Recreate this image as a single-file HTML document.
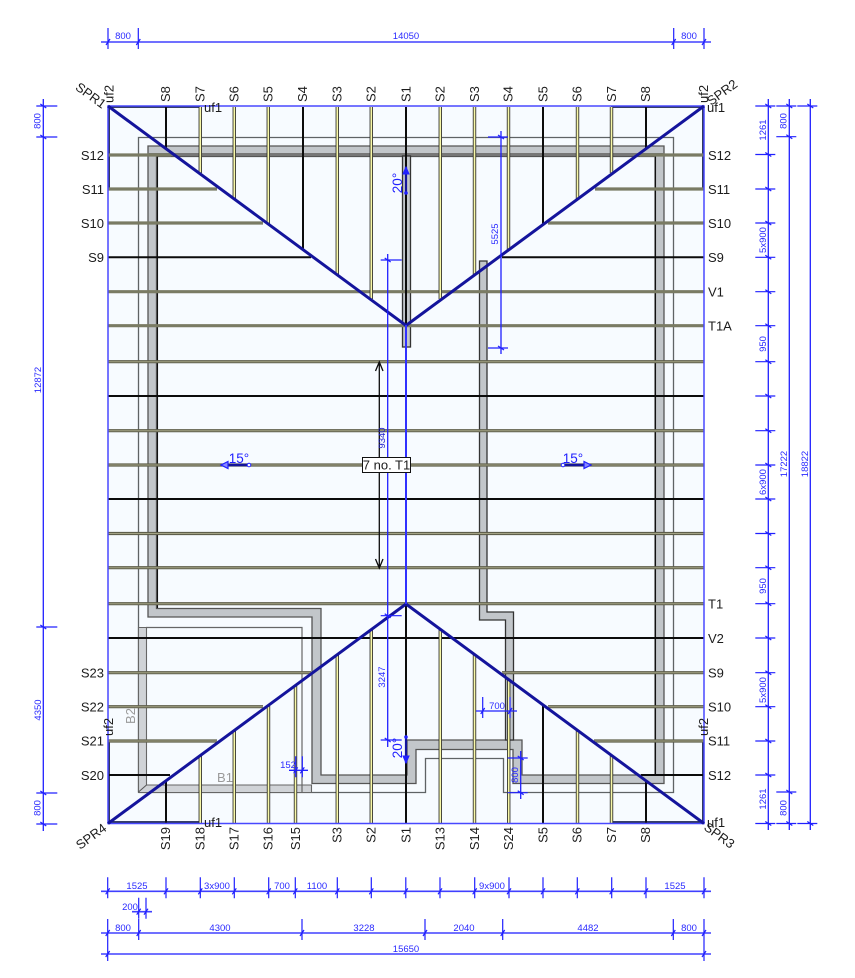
<!DOCTYPE html>
<html><head><meta charset="utf-8"><title>Roof plan</title>
<style>
html,body{margin:0;padding:0;background:#fff}
svg{display:block;filter:blur(0.35px)}
text{font-family:"Liberation Sans",sans-serif}
.b{font-size:13px;fill:#1c1c1c}
.e{text-anchor:end}
.m{text-anchor:middle}
.t{font-size:9.5px;fill:#2a2aff;text-anchor:middle}
.a{font-size:13.5px;fill:#2020ff;text-anchor:middle}
.n{fill:none}
.h{fill:none;stroke:#4040ff;stroke-width:1.6;marker-start:url(#mh);marker-mid:url(#mh);marker-end:url(#mh)}
.v{fill:none;stroke:#2020ff;stroke-width:1.3;marker-start:url(#mv);marker-mid:url(#mv);marker-end:url(#mv)}
.w{fill:none;stroke:#2020ff;stroke-width:1.3;marker-start:url(#mh);marker-mid:url(#mh);marker-end:url(#mh)}
</style></head>
<body>
<svg width="855" height="978" viewBox="0 0 855 978" xmlns="http://www.w3.org/2000/svg">
<defs>
<marker id="mh" markerUnits="userSpaceOnUse" markerWidth="40" markerHeight="40" refX="20" refY="20" orient="auto" viewBox="0 0 40 40"><path d="M20 6V27M18 23L22 17" fill="none" stroke="#2020ff" stroke-width="1.2"/></marker>
<marker id="mv" markerUnits="userSpaceOnUse" markerWidth="40" markerHeight="40" refX="20" refY="20" orient="auto" viewBox="0 0 40 40"><path d="M20 13V33M18 23L22 17" fill="none" stroke="#2020ff" stroke-width="1.2"/></marker>
</defs>

<rect x="108" y="106" width="596" height="717.5" fill="#f7fbff"/>

<!-- thin outer outline -->
<path d="M138.5 792.5V137.5H673.5V792.5H503.5V758.5H425.5V792.5H138.5" class="n" stroke="#5f6365" stroke-width="1.3"/>
<!-- beams B2 / B1 -->
<path d="M138.5 627.5H146.5V785H311.5V792.5H138.5Z" fill="#d0d3d7" stroke="#666" stroke-width="1.1"/>
<path d="M146 627.5H302V792" class="n" stroke="#666" stroke-width="1.2"/>
<path d="M138.5 792L146.5 785" class="n" stroke="#555" stroke-width="1"/>

<!-- wall band ring -->
<path fill-rule="evenodd" d="M148 146H664V783.5H513V749.5H416V783.5H312V617H148ZM156.5 156.5V608.5H321V775H407V740H522V775H655V156.5Z" fill="#c2c6ca" stroke="#555" stroke-width="1.3"/>
<path d="M157.5 156V608M655.5 156V775" class="n" stroke="#111" stroke-width="1.1"/>
<path d="M148 154.5H664" class="n" stroke="#777" stroke-width="3"/>
<!-- interior wall -->
<path d="M479.5 261H487V612H513.5V740H505.5V620H479.5Z" fill="#c2c6ca" stroke="#333" stroke-width="1.3"/>
<!-- ridge band -->
<rect x="402.5" y="156" width="8" height="191" fill="#c2c6ca" stroke="#333" stroke-width="1.3"/>

<!-- eave edges -->
<path d="M109 107V189M109 741V823M703 107V189M703 741V823M109 107H200M611 107H703M109 822H200M611 822H703" class="n" stroke="#1c2450" stroke-width="1.8"/>

<!-- olive members -->
<path d="M108 155H171M108 189H217M108 223H263M108 291.7H704M108 325.7H704M640 155H704M595 189H704M548 223H704" class="n" stroke="#7a7b64" stroke-width="3.2"/>
<path d="M108 361.7H704M108 430.7H704M108 465H704M108 533.5H704M108 567.7H704M108 603.7H704M108 672.7H311M108 706.7H263M108 741H217M502 672.7H704M548 706.7H704M594 741H704" class="n" stroke="#5f5f4b" stroke-width="3.2"/>
<path d="M108 361.7H704M108 430.7H704M108 465H704M108 533.5H704M108 567.7H704M108 603.7H704M108 672.7H311M108 706.7H263M108 741H217M502 672.7H704M548 706.7H704M594 741H704" class="n" stroke="#a3a385" stroke-width="1"/>

<!-- black horizontals -->
<path d="M108 257.3H311M502 257.3H704M108 396H704M108 499H704M108 638H704M109 775H170M641 775H703" class="n" stroke="#0c0c0c" stroke-width="2"/>

<!-- yellow verticals -->
<path d="M200.3 107V173M234.3 107V199M268.3 107V224M337.3 107V275M371.3 107V299M440.3 107V299M474.5 107V275M508.5 107V250M577.5 107V199M611.5 107V173M200.3 823V756M234.3 823V731M268.5 823V706M295.5 823V686M337.3 823V655M371.3 823V630M440.3 823V630M474.5 823V655M508.7 823V680M577.5 823V731M611.5 823V756" class="n" stroke="#2a2a2a" stroke-width="3.4"/>
<path d="M200.3 107V173M234.3 107V199M268.3 107V224M337.3 107V275M371.3 107V299M440.3 107V299M474.5 107V275M508.5 107V250M577.5 107V199M611.5 107V173M200.3 823V756M234.3 823V731M268.5 823V706M295.5 823V686M337.3 823V655M371.3 823V630M440.3 823V630M474.5 823V655M508.7 823V680M577.5 823V731M611.5 823V756" class="n" stroke="#f8f8a8" stroke-width="1.7"/>
<!-- black verticals -->
<path d="M166 107V148M303 107V250M406 107V325M543 107V224M646 107V148M166 823V782M406 823V604M543 823V706M646 823V782" class="n" stroke="#0c0c0c" stroke-width="2"/>

<!-- blue outline -->
<rect x="108" y="106" width="596" height="717.5" class="n" stroke="#4848ff" stroke-width="1.5"/>

<!-- hips -->
<path d="M108 106L406 325.5L704 106M108 823.5L406 604L704 823.5" class="n" stroke="#14149c" stroke-width="3"/>

<!-- centre line -->
<path d="M406 325V604" class="n" stroke="#3030ff" stroke-width="2"/>

<!-- black arrow -->
<path d="M379.3 362V568M375.5 371L379.3 362L383 371M375.5 559L379.3 568L383 559" class="n" stroke="#0c0c0c" stroke-width="1.3"/>

<!-- dims top -->
<path d="M101 42H108M704 42H711" class="n" stroke="#4040ff" stroke-width="1.6"/>
<polyline class="h" points="108,42 138.3,42 673.7,42 704,42"/>
<text class="t" x="123" y="39">800</text><text class="t" x="406" y="39">14050</text><text class="t" x="689" y="39">800</text>

<!-- dims bottom -->
<path d="M101 891.3H108M704 891.3H711M132 911.7H139M146 911.7H152M101 933H108M704 933H711M101 954H108M704 954H711" class="n" stroke="#4040ff" stroke-width="1.6"/>
<polyline class="h" points="107.7,891.3 166,891.3 200.3,891.3 234.3,891.3 268.7,891.3 295.3,891.3 337.3,891.3 371.3,891.3 405.8,891.3 440,891.3 474.7,891.3 509,891.3 543,891.3 577.3,891.3 611.7,891.3 646,891.3 704,891.3"/>
<polyline class="h" points="138.7,911.7 146,911.7"/>
<polyline class="h" points="107.7,933 138.7,933 302,933 425,933 502.7,933 673.3,933 704,933"/>
<polyline class="h" points="107.7,954 704,954"/>
<text class="t" x="137" y="889">1525</text><text class="t" x="217" y="889">3x900</text><text class="t" x="282" y="889">700</text><text class="t" x="317" y="889">1100</text><text class="t" x="492" y="889">9x900</text><text class="t" x="675" y="889">1525</text>
<text class="t" x="130" y="910">200</text>
<text class="t" x="123" y="931">800</text><text class="t" x="220" y="931">4300</text><text class="t" x="364" y="931">3228</text><text class="t" x="464" y="931">2040</text><text class="t" x="588" y="931">4482</text><text class="t" x="689" y="931">800</text>
<text class="t" x="406" y="952">15650</text>

<!-- dims left -->
<path d="M43.3 99V106M43.3 824V831" class="n" stroke="#2020ff" stroke-width="1.3"/>
<polyline class="w" points="43.3,106 43.3,137 43.3,627 43.3,793 43.3,824"/>
<text class="t" transform="translate(40.5,121) rotate(-90)">800</text>
<text class="t" transform="translate(41,380) rotate(-90)">12872</text>
<text class="t" transform="translate(41,710) rotate(-90)">4350</text>
<text class="t" transform="translate(40.5,808) rotate(-90)">800</text>

<!-- dims right -->
<path d="M768.3 99V106M768.3 823.5V830M789.3 99V106M789.3 823.5V830M810.3 99V106M810.3 823.5V830" class="n" stroke="#2020ff" stroke-width="1.3"/>
<polyline class="v" points="768.3,106 768.3,154.5 768.3,189 768.3,223 768.3,257.3 768.3,291.7 768.3,325.7 768.3,361.7 768.3,396 768.3,430.7 768.3,465 768.3,499 768.3,533.5 768.3,567.7 768.3,603.7 768.3,638 768.3,672.7 768.3,706.7 768.3,741 768.3,775 768.3,823.5"/>
<polyline class="v" points="789.3,106 789.3,136.7 789.3,792 789.3,823.5"/>
<polyline class="v" points="810.3,106 810.3,823.5"/>
<text class="t" transform="translate(766,130) rotate(-90)">1261</text>
<text class="t" transform="translate(786.5,121) rotate(-90)">800</text>
<text class="t" transform="translate(766,240) rotate(-90)">5x900</text>
<text class="t" transform="translate(766,344) rotate(-90)">950</text>
<text class="t" transform="translate(766,482) rotate(-90)">6x900</text>
<text class="t" transform="translate(766,586) rotate(-90)">950</text>
<text class="t" transform="translate(766,690) rotate(-90)">5x900</text>
<text class="t" transform="translate(766,799) rotate(-90)">1261</text>
<text class="t" transform="translate(786.5,808) rotate(-90)">800</text>
<text class="t" transform="translate(787,464) rotate(-90)">17222</text>
<text class="t" transform="translate(808,464) rotate(-90)">18822</text>

<!-- interior dims -->
<path d="M501 131V137M501 348V354M387.7 254V260M387.7 740V747M520.7 751V758M520.7 792.7V799M476 711H483M510 711H517M289 770.3H295.7M302.3 770.3H308" class="n" stroke="#2020ff" stroke-width="1.3"/>
<polyline class="v" points="501,137 501,348"/>
<polyline class="w" points="387.7,260 387.7,615.7 387.7,740"/>
<polyline class="w" points="482.7,711 510,711"/>
<polyline class="w" points="295.7,770.3 302.3,770.3"/>
<polyline class="v" points="520.7,758 520.7,792.7"/>
<text class="t" transform="translate(498,234) rotate(-90)">5525</text>
<text class="t" transform="translate(385,438) rotate(-90)" style="fill:#2222cc">9340</text>
<text class="t" transform="translate(385,677) rotate(-90)">3247</text>
<text class="t" x="288" y="768">152</text>
<text class="t" x="497" y="709">700</text>
<text class="t" transform="translate(518,775) rotate(-90)">800</text>

<!-- slope arrows -->
<path d="M223 465H249M563 465H589" class="n" stroke="#14149c" stroke-width="2.4"/>
<path d="M221 465L228 461.5V468.5ZM591 465L584 461.5V468.5Z" fill="#8888ff" stroke="#2020ff" stroke-width="1.2"/>
<circle cx="249" cy="465" r="1.8" fill="#f7fbff" stroke="#2020ff"/><circle cx="563" cy="465" r="1.8" fill="#f7fbff" stroke="#2020ff"/>
<text class="a" x="239" y="463">15°</text><text class="a" x="573" y="463">15°</text>
<path d="M406 167V193M406 737V763" class="n" stroke="#14149c" stroke-width="2.2"/>
<path d="M406 167L403 174H409ZM406 763L403 756H409Z" fill="#2020ff" stroke="#2020ff"/>
<circle cx="406" cy="193" r="1.8" fill="#2020ff"/><circle cx="406" cy="737" r="1.8" fill="#2020ff"/>
<text class="a" transform="translate(402,183) rotate(-90)">20°</text>
<text class="a" transform="translate(402,748) rotate(-90)">20°</text>

<!-- note -->
<rect x="362.5" y="457.5" width="48" height="15" fill="#fff" stroke="#111" stroke-width="1"/>
<text class="b m" x="386.5" y="469.5">7 no. T1</text>

<!-- top labels -->
<g class="b">
<text transform="translate(170,102) rotate(-90)">S8</text>
<text transform="translate(204.5,102) rotate(-90)">S7</text>
<text transform="translate(238.5,102) rotate(-90)">S6</text>
<text transform="translate(272.5,102) rotate(-90)">S5</text>
<text transform="translate(307,102) rotate(-90)">S4</text>
<text transform="translate(341.5,102) rotate(-90)">S3</text>
<text transform="translate(375.5,102) rotate(-90)">S2</text>
<text transform="translate(410.5,102) rotate(-90)">S1</text>
<text transform="translate(444.5,102) rotate(-90)">S2</text>
<text transform="translate(479,102) rotate(-90)">S3</text>
<text transform="translate(512.5,102) rotate(-90)">S4</text>
<text transform="translate(547.5,102) rotate(-90)">S5</text>
<text transform="translate(581.5,102) rotate(-90)">S6</text>
<text transform="translate(616,102) rotate(-90)">S7</text>
<text transform="translate(650,102) rotate(-90)">S8</text>
<!-- bottom labels -->
<text class="e" transform="translate(170,827) rotate(-90)">S19</text>
<text class="e" transform="translate(204.5,827) rotate(-90)">S18</text>
<text class="e" transform="translate(238.5,827) rotate(-90)">S17</text>
<text class="e" transform="translate(272.5,827) rotate(-90)">S16</text>
<text class="e" transform="translate(300,827) rotate(-90)">S15</text>
<text class="e" transform="translate(341.5,827) rotate(-90)">S3</text>
<text class="e" transform="translate(375.5,827) rotate(-90)">S2</text>
<text class="e" transform="translate(410.5,827) rotate(-90)">S1</text>
<text class="e" transform="translate(444.5,827) rotate(-90)">S13</text>
<text class="e" transform="translate(479,827) rotate(-90)">S14</text>
<text class="e" transform="translate(513,827) rotate(-90)">S24</text>
<text class="e" transform="translate(547.5,827) rotate(-90)">S5</text>
<text class="e" transform="translate(581.5,827) rotate(-90)">S6</text>
<text class="e" transform="translate(616,827) rotate(-90)">S7</text>
<text class="e" transform="translate(650,827) rotate(-90)">S8</text>
<!-- left labels -->
<text class="e" x="104" y="160">S12</text>
<text class="e" x="104" y="194">S11</text>
<text class="e" x="104" y="228">S10</text>
<text class="e" x="104" y="262">S9</text>
<text class="e" x="104" y="677.5">S23</text>
<text class="e" x="104" y="711.5">S22</text>
<text class="e" x="104" y="745.5">S21</text>
<text class="e" x="104" y="780">S20</text>
<!-- right labels -->
<text x="708" y="160">S12</text>
<text x="708" y="194">S11</text>
<text x="708" y="228">S10</text>
<text x="708" y="262">S9</text>
<text x="708" y="296.5">V1</text>
<text x="708" y="330.5">T1A</text>
<text x="708" y="608.5">T1</text>
<text x="708" y="643">V2</text>
<text x="708" y="677.5">S9</text>
<text x="708" y="711.5">S10</text>
<text x="708" y="745.5">S11</text>
<text x="708" y="780">S12</text>
<!-- uf labels -->
<text transform="translate(113.5,103) rotate(-90)">uf2</text>
<text x="204" y="112">uf1</text>
<text transform="translate(708,103) rotate(-90)">uf2</text>
<text x="707" y="112">uf1</text>
<text transform="translate(113,736) rotate(-90)">uf2</text>
<text x="204" y="827">uf1</text>
<text transform="translate(708,736) rotate(-90)">uf2</text>
<text x="707" y="827">uf1</text>
<!-- SPR labels -->
<text transform="translate(74.5,89) rotate(36)">SPR1</text>
<text transform="translate(711,106) rotate(-36)">SPR2</text>
<text transform="translate(703,829) rotate(36)">SPR3</text>
<text transform="translate(80,850) rotate(-36)">SPR4</text>
</g>
<text transform="translate(135,716) rotate(-90)" style="font-size:13px;fill:#9a9a9a" text-anchor="middle">B2</text>
<text x="225" y="782" style="font-size:13px;fill:#9a9a9a" text-anchor="middle">B1</text>
</svg>
</body></html>
